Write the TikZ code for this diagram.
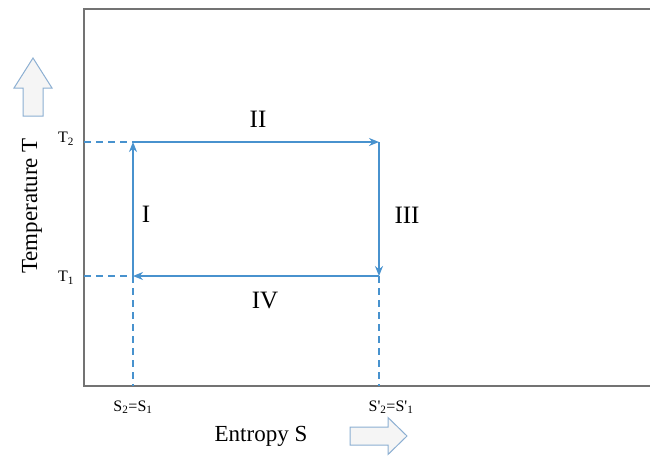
\documentclass[tikz,border=0pt]{standalone}
\usepackage{fontspec}
\setmainfont{Liberation Serif}
\newfontfamily\tickfont{Liberation Serif}
\usetikzlibrary{arrows.meta}
\definecolor{cycleblue}{RGB}{72,146,206}
\definecolor{hollowblue}{RGB}{140,175,210}
\tikzset{
  stage/.style={cycleblue,line width=2pt,-{Stealth[length=10pt,width=8pt]}},
  guide/.style={cycleblue,line width=1.8pt,dash pattern=on 7pt off 5pt},
  roman/.style={inner sep=0pt,font=\fontsize{25}{28}\selectfont},
  tick/.style={inner sep=0pt,font=\tickfont\fontsize{16}{18}\selectfont},
  axistext/.style={inner sep=0pt,font=\fontsize{23}{26}\selectfont},
  hollow/.style={draw=hollowblue,fill=gray!8,line width=1pt,line join=miter}
}
\begin{document}
\begin{tikzpicture}[x=1pt,y=-1pt]
\path[use as bounding box] (0,0) rectangle (650,456);
% frame
\draw[gray!90!black,line width=2pt] (650,8.5) -- (84,8.5) -- (84,386) -- (650,386);
% cycle corners
\coordinate (A) at (133,276);
\coordinate (B) at (133,142);
\coordinate (C) at (379,142);
\coordinate (D) at (379,276);
\coordinate (tTwo) at (84,142);
\coordinate (tOne) at (84,276);
\coordinate (sOne) at (133,386);
\coordinate (sTwo) at (379,386);
% dashed guides
\draw[guide] (tTwo) -- (B);
\draw[guide] (tOne) -- (A);
\draw[guide] (A) -- (sOne);
\draw[guide] (D) -- (sTwo);
% the four stages
\draw[stage] (A) -- (B);
\draw[stage] (B) -- (C);
\draw[stage] (C) -- (D);
\draw[stage] (D) -- (A);
\node[roman] (one) at (146,214) {I};
\node[roman] (two) at (258,119) {II};
\node[roman] (three) at (407,215) {III};
\node[roman] (four) at (265,300) {IV};
% ticks
\node[tick] (Ttwo) at (66,139) {T\textsubscript{2}};
\node[tick] (Tone) at (66,278) {T\textsubscript{1}};
\node[tick] (Sone) at (133,407) {S\textsubscript{2}=S\textsubscript{1}};
\node[tick] (Stwo) at (391,407) {S'\textsubscript{2}=S'\textsubscript{1}};
% axis names
\node[axistext,rotate=90] (temp) at (32,206) {Temperature T};
\node[axistext] (entropy) at (261,436) {Entropy S};
% hollow arrows
\draw[hollow] (33,58) -- (52,88) -- (43,88) -- (43,116) -- (23,116) -- (23,88) -- (14,88) -- cycle;
\draw[hollow] (407,436) -- (388,417.5) -- (388,427) -- (350,427) -- (350,445) -- (388,445) -- (388,454.5) -- cycle;
\end{tikzpicture}
\end{document}
